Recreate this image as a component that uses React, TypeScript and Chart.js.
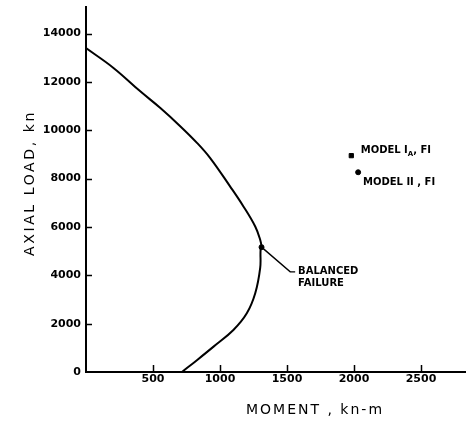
import { useEffect, useRef } from 'react';
import { Chart, registerables } from 'chart.js';

Chart.register(...registerables);

// Interaction curve (moment kN-m, axial load kN)
const curveMoment = [0, 205, 405, 555, 705, 830, 927, 1075, 1175, 1263, 1300, 1310, 1303, 1300, 1263, 1200, 1100, 952, 830, 716];
const curveLoad = [13400, 12580, 11610, 10920, 10160, 9470, 8850, 7680, 6850, 6020, 5470, 5165, 5050, 4310, 3260, 2430, 1740, 1050, 500, 0];

const balancedMoment = [1310];
const balancedLoad = [5165];
const modelIAMoment = [1980];
const modelIALoad = [8950];
const modelIIMoment = [2031];
const modelIILoad = [8263];

const xTickValues = [500, 1000, 1500, 2000, 2500];
const yTickValues = [0, 2000, 4000, 6000, 8000, 10000, 12000, 14000];
const xMin = 0;
const xMax = 2836;
const yMin = 0;
const yMax = 15100;

const xTitle = 'MOMENT , kn-m';
const yTitle = 'AXIAL LOAD, kn';

// annotation anchors in data units
const leaderMoment = [1310, 1524, 1561];
const leaderLoad = [5165, 4142, 4142];
const balancedLabels = ['BALANCED', 'FAILURE'];
const balancedLabelMoment = [1583, 1583];
const balancedLabelLoad = [4154, 3674];
const modelLabelMain = ['MODEL I', 'MODEL II , FI'];
const modelLabelSub = ['A', ''];
const modelLabelTail = [', FI', ''];
const modelLabelMoment = [2050, 2067];
const modelLabelLoad = [9166, 7849];

const toPoints = (xs: number[], ys: number[]) => xs.map((x, i) => ({ x, y: ys[i] }));

const overlayPlugin = {
  id: 'overlay',
  afterDraw(chart: any) {
    const ctx = chart.ctx as CanvasRenderingContext2D;
    const xs = chart.scales.x;
    const ys = chart.scales.y;
    const area = chart.chartArea;
    ctx.save();
    ctx.strokeStyle = '#000';
    ctx.fillStyle = '#000';
    // inward tick marks
    ctx.lineWidth = 1.5;
    ctx.beginPath();
    xTickValues.forEach((v) => {
      const px = Math.round(xs.getPixelForValue(v)) + 0.5;
      ctx.moveTo(px, area.bottom);
      ctx.lineTo(px, area.bottom - 7);
    });
    yTickValues.forEach((v) => {
      if (v === 0) return;
      const py = Math.round(ys.getPixelForValue(v)) + 0.5;
      ctx.moveTo(area.left, py);
      ctx.lineTo(area.left + 6, py);
    });
    ctx.stroke();

    // leader line for balanced failure
    ctx.lineWidth = 1.4;
    ctx.beginPath();
    leaderMoment.forEach((m, i) => {
      const px = xs.getPixelForValue(m);
      const py = ys.getPixelForValue(leaderLoad[i]);
      if (i === 0) ctx.moveTo(px, py);
      else ctx.lineTo(px, py);
    });
    ctx.stroke();

    // annotation texts
    ctx.font = 'bold 10px "DejaVu Sans"';
    ctx.textBaseline = 'middle';
    ctx.textAlign = 'left';
    balancedLabels.forEach((t, i) => {
      ctx.fillText(t, xs.getPixelForValue(balancedLabelMoment[i]), ys.getPixelForValue(balancedLabelLoad[i]));
    });
    modelLabelMain.forEach((t, i) => {
      let px = xs.getPixelForValue(modelLabelMoment[i]);
      const py = ys.getPixelForValue(modelLabelLoad[i]);
      ctx.font = 'bold 10px "DejaVu Sans"';
      ctx.fillText(t, px, py);
      px += ctx.measureText(t).width;
      if (modelLabelSub[i]) {
        ctx.font = 'bold 7px "DejaVu Sans"';
        ctx.fillText(modelLabelSub[i], px, py + 4);
        px += ctx.measureText(modelLabelSub[i]).width;
      }
      if (modelLabelTail[i]) {
        ctx.font = 'bold 10px "DejaVu Sans"';
        ctx.fillText(modelLabelTail[i], px, py);
      }
    });

    // axis titles
    ctx.font = '14px "DejaVu Sans"';
    (ctx as any).letterSpacing = '2px';
    ctx.textAlign = 'center';
    ctx.fillText(xTitle, area.left + 229, area.bottom + 38);
    (ctx as any).letterSpacing = '2.6px';
    ctx.translate(30, area.top + 176);
    ctx.rotate(-Math.PI / 2);
    ctx.fillText(yTitle, 0, 0);
    ctx.restore();
  },
};

const zeroPadding = (s: any) => {
  s.paddingTop = 0;
  s.paddingBottom = 0;
  s.paddingLeft = 0;
  s.paddingRight = 0;
};

export default function App() {
  const ref = useRef<HTMLCanvasElement | null>(null);
  useEffect(() => {
    const canvas = ref.current;
    if (!canvas) return;
    const chart = new Chart(canvas, {
      type: 'scatter',
      data: {
        datasets: [
          {
            data: toPoints(curveMoment, curveLoad),
            showLine: true,
            borderColor: '#000',
            borderWidth: 2,
            pointRadius: 0,
            tension: 0.4,
            fill: false,
          },
          {
            data: toPoints(balancedMoment, balancedLoad),
            pointRadius: 2.5,
            pointStyle: 'circle',
            backgroundColor: '#000',
            borderColor: '#000',
          },
          {
            data: toPoints(modelIAMoment, modelIALoad),
            pointRadius: 3,
            pointStyle: 'rect',
            backgroundColor: '#000',
            borderColor: '#000',
          },
          {
            data: toPoints(modelIIMoment, modelIILoad),
            pointRadius: 2.5,
            pointStyle: 'circle',
            backgroundColor: '#000',
            borderColor: '#000',
          },
        ],
      },
      options: {
        animation: false,
        responsive: false,
        maintainAspectRatio: false,
        layout: { autoPadding: false, padding: { top: 7, right: 0, left: 0, bottom: 0 } },
        plugins: { legend: { display: false }, tooltip: { enabled: false } },
        scales: {
          x: {
            type: 'linear',
            min: xMin,
            max: xMax,
            afterBuildTicks: (s: any) => {
              s.ticks = xTickValues.map((v) => ({ value: v }));
            },
            afterFit: (s: any) => {
              s.height = 54;
              zeroPadding(s);
            },
            grid: { display: false, drawTicks: false },
            border: { display: true, color: '#000', width: 2 },
            ticks: {
              color: '#000',
              padding: 1,
              maxRotation: 0,
              font: { family: 'DejaVu Sans', weight: 'bold', size: 11 },
              callback: (v: any) => String(v),
            },
          },
          y: {
            type: 'linear',
            min: yMin,
            max: yMax,
            afterBuildTicks: (s: any) => {
              s.ticks = yTickValues.map((v) => ({ value: v }));
            },
            afterFit: (s: any) => {
              s.width = 86;
              zeroPadding(s);
            },
            grid: { display: false, drawTicks: false },
            border: { display: true, color: '#000', width: 2 },
            ticks: {
              color: '#000',
              padding: 5,
              font: { family: 'DejaVu Sans', weight: 'bold', size: 11 },
              callback: (v: any) => String(v),
            },
          },
        },
      },
      plugins: [overlayPlugin],
    });
    return () => chart.destroy();
  }, []);
  return (
    <div style={{ position: 'absolute', left: 0, top: 0, width: 466, height: 426, background: '#fff' }}>
      <canvas ref={ref} width={466} height={426} />
    </div>
  );
}
